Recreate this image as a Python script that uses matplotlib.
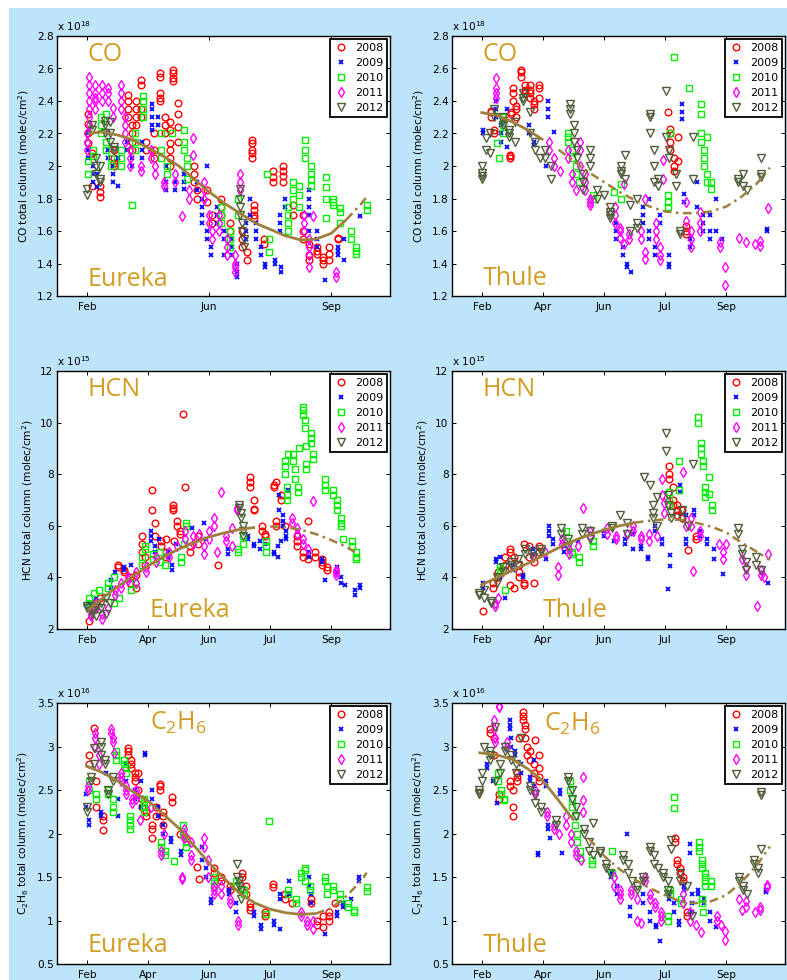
import matplotlib
matplotlib.use('Agg')
import matplotlib.pyplot as plt
from matplotlib.patches import Rectangle
from matplotlib.lines import Line2D

plt.rcParams['font.family'] = ['DejaVu Sans']
plt.rcParams['mathtext.fontset'] = 'custom'
plt.rcParams['mathtext.rm'] = 'Open Sans'
plt.rcParams['mathtext.default'] = 'regular'

years = ['2008', '2009', '2010', '2011', '2012']
month_ticks = [30, 90, 150, 210, 270]
month_labels = ['Feb', 'Apr', 'Jun', 'Jul', 'Sep']

# ---------------- Eureka CO (x 1e18) : (day, [values]) ----------------
eu_co_2008 = [(31, [2.2, 2.26, 2.32, 2.14]), (34, [2.08, 1.88]), (42, [1.81, 1.84, 1.88]),
              (56, [2.0, 2.02, 2.05, 2.1]), (70, [2.44, 2.4, 2.35, 2.3]), (74, [2.25, 2.2, 2.15, 2.1]),
              (78, [2.4, 2.35, 2.3, 2.25]), (83, [2.53, 2.5, 2.35, 2.3]), (88, [2.15, 2.1]),
              (96, [2.2, 2.1, 2.05]), (101, [2.57, 2.55, 2.45, 2.42, 2.4]), (106, [2.3, 2.25, 2.2]),
              (111, [2.27, 2.22, 2.14, 2.1, 2.05, 2.0]), (114, [2.59, 2.57, 2.54, 2.52]),
              (119, [2.39, 2.32, 2.24, 2.15]), (135, [2.0, 1.95, 1.9]), (138, [1.85, 1.8]),
              (148, [1.85, 1.78]), (153, [1.7, 1.65]), (162, [1.8, 1.75, 1.7]), (170, [1.65, 1.6]),
              (182, [1.6, 1.55, 1.5]), (187, [1.47, 1.42]), (192, [2.16, 2.14, 2.1, 2.08, 2.05]),
              (194, [1.76, 1.73, 1.7, 1.68]), (204, [1.55, 1.52]), (213, [1.97, 1.93, 1.9]),
              (223, [2.0, 1.97, 1.94, 1.9]), (232, [1.7, 1.76]), (242, [1.7, 1.6, 1.55]),
              (248, [1.52, 1.45, 1.42]), (256, [1.5, 1.48, 1.46]), (262, [1.44, 1.42, 1.4]),
              (268, [1.5, 1.46, 1.42]), (277, [1.56, 1.55])]
eu_co_2009 = [(31, [2.2, 2.1, 2.05]), (35, [2.0, 1.95, 1.9]), (39, [1.87, 1.95]),
              (50, [2.2, 2.1, 2.05]), (55, [2.0, 1.95, 1.9]), (60, [2.05, 1.88]),
              (69, [2.15, 2.1]), (74, [2.05, 2.0]), (84, [2.05, 2.1, 2.15]),
              (94, [2.38, 2.35, 2.3, 2.25, 2.22]), (99, [2.3, 2.25]), (107, [2.0, 1.9, 1.85]),
              (116, [1.9, 1.85]), (125, [1.95, 1.9, 1.86]), (138, [1.9, 1.85]),
              (143, [1.8, 1.75, 1.7, 1.65]), (148, [2.0, 1.6, 1.55]), (152, [1.5, 1.45]),
              (158, [1.75, 1.7, 1.65]), (164, [1.6, 1.55, 1.45]), (172, [1.55, 1.5, 1.45]),
              (177, [1.4, 1.35, 1.32]), (186, [1.55, 1.6, 1.65]), (190, [1.7, 1.8]),
              (196, [1.65, 1.6, 1.55]), (201, [1.5, 1.45]), (205, [1.4, 1.38]), (215, [1.42, 1.4]),
              (221, [1.38, 1.35]), (220, [1.6, 1.65, 1.7]), (225, [1.75, 1.8]),
              (248, [1.85, 1.8, 1.75, 1.7, 1.6]), (256, [1.6, 1.55, 1.5]), (264, [1.3]),
              (277, [1.45, 1.5, 1.48]), (283, [1.42, 1.55]), (298, [1.69])]
eu_co_2010 = [(31, [2.03, 1.95]), (35, [2.06, 2.1]), (43, [2.3, 2.25, 2.2]), (48, [2.32, 2.15, 2.1]),
              (53, [2.05, 2.0]), (63, [2.0, 2.05, 2.1]), (74, [1.76]), (77, [2.15, 2.1, 2.2]),
              (85, [2.43, 2.4, 2.35, 2.3]), (102, [2.2, 2.1, 2.05]), (108, [2.0, 1.95]), (113, [2.2]),
              (125, [2.22, 2.15, 2.1]), (128, [2.05, 2.0, 1.92]), (162, [1.75, 1.7, 1.65]),
              (170, [1.6, 1.55, 1.5]), (178, [1.8, 1.7]), (207, [1.95]), (209, [1.47, 1.55]),
              (228, [1.75, 1.7, 1.65, 1.6]), (232, [1.9, 1.85, 1.8]), (238, [1.88, 1.82, 1.75]),
              (244, [2.16, 2.1, 2.05]), (250, [2.0, 1.95, 1.92, 1.88]), (265, [1.93, 1.87, 1.8, 1.68]),
              (272, [1.8, 1.78, 1.76]), (279, [1.74, 1.72, 1.65]), (290, [1.6, 1.55]),
              (295, [1.5, 1.48, 1.46]), (305, [1.76, 1.73])]
eu_co_2011 = [(30, [2.2, 2.15, 2.1]), (32, [2.55, 2.5, 2.45, 2.4, 2.35, 2.3, 2.25]),
              (37, [2.5, 2.45, 2.42, 2.4, 2.35]), (44, [2.5, 2.45, 2.4]), (50, [2.48, 2.45, 2.4]),
              (55, [2.36, 2.3]), (63, [2.45, 2.5, 2.4, 2.35]), (67, [2.3, 2.25, 2.2, 2.15]),
              (72, [2.1, 2.05, 2.0]), (83, [1.97, 2.0]), (93, [2.1, 2.05]), (97, [2.0, 1.95]),
              (105, [1.9, 1.88]), (116, [1.95, 1.9]), (123, [1.69]), (130, [1.85, 1.8]),
              (134, [2.07, 2.17]), (145, [1.9, 1.85, 1.8]), (150, [1.7, 1.65]), (153, [1.6, 1.55]),
              (160, [1.7, 1.65, 1.6]), (167, [1.55, 1.5, 1.45]), (175, [1.45, 1.4, 1.38, 1.35]),
              (180, [1.95, 1.9, 1.85]), (243, [1.7, 1.65, 1.6]), (248, [1.55, 1.5, 1.45, 1.38]),
              (252, [1.69]), (275, [1.35, 1.32])]
eu_co_2012 = [(30, [1.82, 1.86]), (34, [2.25, 2.22]), (38, [2.05, 2.0, 1.95]), (42, [1.9, 1.92, 2.0]),
              (47, [2.28, 2.25, 2.2]), (52, [2.27, 2.2, 2.15]), (56, [2.12, 2.1]),
              (180, [1.86, 1.8, 1.75, 1.7]), (182, [1.65, 1.6]), (184, [1.55, 1.5])]
eu_co_fit_day = [30, 45, 60, 75, 90, 105, 120, 135, 150, 165, 180, 195, 210, 225, 240, 255, 270, 285, 300, 305]
eu_co_fit_val = [2.2, 2.21, 2.19, 2.16, 2.11, 2.06, 2.0, 1.92, 1.84, 1.77, 1.71, 1.65, 1.61, 1.57,
                 1.545, 1.55, 1.585, 1.67, 1.77, 1.81]

# ---------------- Thule CO (x 1e18) ----------------
th_co_2008 = [(38, [2.33, 2.34, 2.3]), (41, [2.22, 2.2]), (57, [2.06, 2.05, 2.07]), (58, [2.32, 2.33]),
              (60, [2.48, 2.45, 2.4]), (63, [2.37, 2.35, 2.3]), (68, [2.59, 2.58, 2.55]),
              (72, [2.5, 2.47, 2.45]), (77, [2.5, 2.47, 2.45, 2.42]), (81, [2.4, 2.38, 2.35]),
              (86, [2.5, 2.48, 2.42]), (213, [2.33]), (215, [2.23, 2.2, 2.15, 2.1]),
              (219, [2.05, 2.0, 1.97]), (223, [2.18, 2.03]), (230, [1.63, 1.6, 1.58])]
th_co_2009 = [(31, [2.22, 2.2]), (43, [2.4, 2.35, 2.3]), (48, [2.25, 2.2, 2.15]), (54, [2.35, 2.12]),
              (76, [2.25, 2.2]), (81, [2.15, 2.13]), (93, [2.0]), (95, [2.4, 2.35, 2.3]), (100, [2.21]),
              (162, [1.65, 1.6, 1.55]), (168, [1.5, 1.45]), (172, [1.4, 1.38]), (176, [1.35]),
              (188, [1.75, 1.7, 1.65]), (194, [1.6, 1.55, 1.8]), (200, [1.5, 1.45]), (205, [1.7, 1.65]),
              (214, [1.45, 1.4, 1.38]), (227, [2.38, 2.33, 2.29]), (229, [1.83, 1.78]), (234, [1.55, 1.5]),
              (241, [1.9, 1.75]), (247, [1.7, 1.65, 1.6]), (254, [1.6, 1.55, 1.7]), (260, [1.8, 1.6]),
              (266, [1.55]), (310, [1.61, 1.6])]
th_co_2010 = [(44, [2.14]), (46, [2.05]), (50, [2.2, 2.25, 2.3]), (114, [2.2, 2.18, 2.15]),
              (118, [2.1, 2.05]), (122, [2.0, 1.95]), (125, [1.9]), (139, [1.8, 1.82]), (160, [1.84]),
              (166, [1.89, 1.8]), (213, [1.82, 1.78, 1.75]), (215, [2.2]), (219, [2.67]), (233, [2.48]),
              (245, [2.38, 2.32, 2.2, 2.15]), (248, [2.1, 2.05, 2.0]), (251, [2.18, 1.95, 1.9]),
              (255, [1.9, 1.86])]
th_co_2011 = [(43, [2.54, 2.48, 2.45, 2.42]), (96, [2.15, 2.1]), (100, [2.05, 2.0]), (106, [1.97]),
              (114, [2.1, 2.05]), (118, [1.95, 1.9]), (122, [1.85]), (126, [2.15, 2.1, 2.0]),
              (131, [1.95, 1.9, 1.85]), (136, [1.8, 1.78, 1.76]), (161, [1.75, 1.7, 1.65]),
              (165, [1.62, 1.6, 1.56]), (169, [1.52, 1.89]), (174, [1.58, 1.55]), (186, [1.6, 1.55]),
              (190, [1.47, 1.43, 1.8]), (201, [1.65, 1.6, 1.55]), (205, [1.5, 1.45, 1.42]),
              (208, [1.92, 2.04]), (230, [1.78, 1.66]), (235, [1.6, 1.55, 1.5]), (244, [1.72, 1.65, 1.6]),
              (264, [1.53, 1.5]), (269, [1.38, 1.27]), (283, [1.56]), (290, [1.53]), (298, [1.52]),
              (303, [1.54, 1.51]), (311, [1.74])]
th_co_2012 = [(30, [1.94, 1.96, 1.92, 2.0]), (33, [2.17, 2.1]), (37, [2.08, 2.2]), (41, [2.35, 2.3]),
              (50, [2.3, 2.28, 2.25]), (56, [2.22, 2.2, 2.18]), (62, [2.15, 2.27]), (70, [2.45, 2.42, 2.4]),
              (77, [2.33, 2.2]), (82, [2.15, 2.1]), (87, [2.05]), (92, [2.1, 2.05]), (98, [2.0, 1.92]),
              (116, [2.38, 2.35, 2.32]), (120, [2.2, 2.15, 2.25]), (123, [2.1, 2.05]),
              (129, [1.95, 1.9, 1.85]), (136, [2.1, 2.05, 2.0]), (143, [1.85, 1.8]), (150, [1.82]),
              (156, [1.72, 1.7, 1.68, 1.75]), (166, [2.0, 1.97, 1.95]), (170, [1.92, 2.07]),
              (175, [1.76, 1.6]), (182, [1.65, 1.62, 1.8]), (195, [2.32, 2.3, 2.2]), (199, [2.1, 2.0, 1.9]),
              (203, [1.88, 1.92]), (211, [2.46, 2.18]), (214, [2.05, 2.1]), (221, [1.88, 1.95]),
              (225, [1.6, 1.58]), (237, [2.18, 1.92]), (282, [1.92, 1.9]), (287, [1.88, 1.95]),
              (291, [1.85]), (304, [2.05, 1.95, 1.93])]
th_co_fit_day = [28, 45, 60, 75, 90, 105, 120, 135, 150, 165, 180, 195, 210, 225, 240, 255, 270, 285, 300, 313]
th_co_fit_val = [2.33, 2.31, 2.27, 2.22, 2.16, 2.1, 2.03, 1.96, 1.9, 1.84, 1.79, 1.75, 1.72, 1.71,
                 1.71, 1.72, 1.75, 1.81, 1.89, 1.99]

# ---------------- Eureka HCN (x 1e15) ----------------
eu_hcn_2008 = [(32, [2.3]), (37, [2.8, 3.0]), (42, [3.2]), (60, [4.5, 4.4]), (66, [4.3, 4.2]),
               (72, [4.0, 3.8]), (78, [3.6, 4.1]), (84, [5.6, 5.3, 5.0]), (87, [4.8, 4.5]),
               (94, [7.4, 6.6]), (97, [6.1, 5.6]), (102, [5.4, 5.2]), (107, [5.0, 4.8, 5.5]),
               (114, [6.8, 6.7, 6.6]), (115, [5.4]), (118, [6.2, 6.0]), (121, [5.8, 5.7]),
               (124, [10.35]), (126, [7.5]), (131, [5.2, 5.0]), (139, [5.6, 5.3]), (159, [4.5]),
               (190, [7.9, 7.7, 7.5]), (194, [7.0, 6.6, 6.65]), (202, [6.0, 5.8]), (205, [5.7, 5.6]),
               (214, [7.6, 7.5]), (216, [7.7, 6.2, 6.0]), (221, [7.2, 7.0]), (225, [6.0]),
               (236, [5.6, 5.4, 5.2]), (242, [5.0, 4.8]), (247, [4.7, 6.2]), (254, [5.0, 4.8]),
               (261, [4.7, 4.6, 4.5]), (266, [4.4, 4.3])]
eu_hcn_2009 = [(32, [2.8, 3.0]), (38, [3.2]), (53, [3.9, 3.6]), (57, [4.2]), (66, [4.4, 4.3]), (73, [4.5]),
               (93, [5.8, 5.6, 5.4]), (97, [5.2, 5.0]), (100, [5.5]), (109, [5.0, 4.8]), (113, [4.5, 4.3]),
               (117, [5.3]), (133, [5.9]), (145, [6.1]), (147, [5.5]), (168, [4.9, 5.1]),
               (188, [5.6, 5.5]), (194, [5.3, 5.2]), (200, [5.1, 5.4]), (205, [5.3]), (214, [5.0, 4.9]),
               (218, [4.8, 5.2]), (221, [5.4]), (219, [7.2, 6.6]), (223, [6.4, 6.2, 6.0]),
               (226, [5.8, 5.6, 5.5]), (228, [7.4]), (248, [5.0, 4.8]), (261, [4.7, 4.6]), (264, [3.9]),
               (276, [4.4, 4.2]), (280, [4.0, 3.8]), (284, [3.7]), (294, [3.5, 3.3]), (298, [3.7, 3.6])]
eu_hcn_2010 = [(32, [3.2, 3.0]), (36, [2.8, 3.4]), (41, [3.5]), (50, [3.6, 3.8]), (56, [4.0, 3.0]),
               (61, [3.2]), (73, [3.5]), (77, [3.8]), (84, [4.5, 4.8]), (87, [5.1, 5.2]), (95, [4.9, 4.7]),
               (101, [4.6, 5.0]), (106, [4.5]), (122, [4.6, 4.8]), (125, [5.3]), (127, [6.1, 6.0]),
               (178, [5.0, 5.1]), (183, [5.3, 5.6]), (206, [5.4, 5.2, 5.0]), (225, [8.5, 8.3, 8.0]),
               (227, [7.5, 7.2, 7.0]), (228, [8.8]), (232, [8.8, 8.5]), (234, [8.2, 7.8]), (237, [7.5, 7.3]),
               (238, [9.0]), (242, [10.6, 10.5, 10.3]), (244, [10.1, 9.8]), (245, [9.1, 8.4, 8.2]),
               (250, [9.6, 9.4, 9.2]), (252, [8.8, 8.6]), (264, [7.8, 7.6, 7.4]), (272, [7.4, 7.2]),
               (276, [7.0, 6.8, 6.6]), (280, [6.3, 6.1, 6.0]), (282, [5.5]), (291, [5.4, 5.2]),
               (295, [5.0, 4.8, 4.7])]
eu_hcn_2011 = [(33, [2.5, 2.6]), (38, [2.8, 3.0]), (44, [2.4, 2.6]), (50, [2.8]), (57, [3.5, 3.3]),
               (63, [3.6, 3.8]), (70, [3.9, 4.0]), (78, [4.2, 3.8]), (88, [4.2, 4.4]), (98, [4.6, 4.8]),
               (110, [4.8, 5.0]), (118, [5.2]), (126, [5.5, 5.8]), (134, [5.6, 5.3]), (140, [5.7]),
               (145, [4.9, 5.2]), (150, [5.5, 5.8]), (155, [6.0, 6.3]), (158, [5.0]), (162, [7.3]),
               (166, [5.6, 5.4]), (172, [5.2, 5.9]), (177, [6.6, 6.7]), (231, [6.3, 6.1]),
               (236, [5.9, 5.7]), (242, [5.5, 5.3]), (247, [5.1]), (252, [6.95]), (275, [4.3, 4.2, 4.1])]
eu_hcn_2012 = [(30, [2.9, 2.8]), (34, [2.7, 2.6]), (38, [2.5, 2.9]), (43, [3.0, 2.8]), (48, [3.2, 2.6]),
               (52, [3.0]), (179, [6.8, 6.7]), (181, [6.5, 6.3]), (183, [6.0, 5.8, 5.6])]
eu_hcn_fit_day = [30, 45, 60, 75, 90, 105, 120, 135, 150, 165, 180, 195, 210, 225, 240, 255, 270, 285, 298]
eu_hcn_fit_val = [2.7, 3.2, 3.65, 4.05, 4.45, 4.8, 5.1, 5.35, 5.57, 5.73, 5.86, 5.94, 5.97, 5.95,
                  5.85, 5.68, 5.45, 5.18, 4.88]

# ---------------- Thule HCN (x 1e15) ----------------
th_hcn_2008 = [(31, [2.7]), (40, [3.6, 3.8]), (45, [4.0, 4.2]), (52, [4.3, 4.5, 4.8]), (57, [5.0, 5.1, 3.7]),
               (61, [3.6, 4.8]), (66, [4.5, 4.2, 4.0]), (71, [3.8, 3.7, 5.3]), (76, [5.2, 4.8]),
               (81, [3.8, 4.6]), (86, [5.0, 5.2]), (214, [8.3, 8.0, 7.8]), (218, [7.5, 7.0, 6.8]),
               (222, [6.6, 6.4, 6.8]), (227, [6.6, 6.3]), (232, [5.05]), (240, [5.6, 5.5])]
th_hcn_2009 = [(31, [3.8, 3.6]), (43, [4.6, 4.7]), (47, [4.8, 4.0]), (52, [3.2]), (60, [4.5, 4.3]),
               (70, [4.1, 4.0]), (80, [5.1, 4.9]), (93, [4.7]), (96, [5.6, 5.8, 6.0]), (99, [5.5, 5.3]),
               (110, [5.2, 5.0]), (124, [5.4]), (150, [5.8, 5.6]), (160, [5.4]), (170, [5.5, 5.3]),
               (178, [5.1, 5.7]), (186, [5.2, 5.1]), (193, [4.8, 4.7]), (200, [5.8, 6.0]), (207, [5.5, 5.3]),
               (213, [3.55]), (215, [4.45, 4.85]), (225, [7.6, 7.3]), (230, [6.4, 5.5, 5.3]),
               (238, [6.6, 6.4]), (244, [5.8, 5.6]), (251, [5.5, 5.3]), (258, [5.1, 4.7]), (267, [4.15]),
               (311, [3.78])]
th_hcn_2010 = [(47, [4.4, 4.2, 4.3]), (52, [3.5]), (112, [5.8, 5.4]), (118, [5.0, 4.9]), (125, [4.8, 4.6]),
               (139, [5.4, 5.2]), (214, [7.3, 7.0, 6.8]), (224, [8.5, 7.4]), (242, [10.2, 10.0]),
               (245, [9.2, 9.0, 8.8]), (247, [8.5, 8.3]), (249, [7.5, 7.3, 7.1]), (253, [7.9, 7.25]),
               (256, [6.8, 6.6])]
th_hcn_2011 = [(42, [3.0, 2.9]), (45, [3.2]), (80, [4.8]), (92, [5.0]), (104, [4.4, 4.1]), (108, [5.5, 5.3]),
               (115, [5.1, 4.9]), (124, [5.2]), (129, [6.7]), (136, [5.8, 5.6]), (153, [5.9, 5.7]),
               (162, [5.5, 5.6]), (172, [5.7]), (178, [6.0, 5.8]), (186, [5.6, 5.5]), (194, [5.4, 5.7]),
               (202, [5.6]), (207, [7.8, 7.2]), (209, [6.9, 6.5]), (228, [8.1]), (230, [6.0]),
               (235, [6.3, 6.0]), (237, [4.25]), (244, [5.8, 5.6]), (263, [5.3]), (267, [5.0, 4.7]),
               (270, [5.3]), (286, [4.7]), (290, [4.4, 4.1]), (300, [2.9]), (304, [4.3, 4.1]), (307, [4.0]),
               (311, [4.9])]
th_hcn_2012 = [(27, [3.4, 3.3]), (32, [3.2, 3.5]), (38, [3.1, 3.0]), (44, [3.8, 4.0]), (50, [4.2, 4.4]),
               (58, [4.5, 4.6]), (65, [4.5, 4.7]), (72, [4.9, 5.1]), (80, [4.8, 5.0]), (88, [5.0, 5.1]),
               (107, [5.9, 5.7]), (114, [5.5, 5.2]), (128, [5.9, 5.7]), (136, [5.5, 5.8]), (158, [6.0, 5.9]),
               (165, [6.4]), (172, [5.7, 6.1]), (189, [7.9]), (195, [7.6]), (198, [6.8, 6.5, 6.3]),
               (202, [6.0, 7.1]), (211, [9.6, 8.9]), (213, [7.2, 6.8]), (216, [6.5, 6.3]), (227, [6.6, 6.3]),
               (232, [6.0]), (237, [8.4]), (282, [5.9, 5.7]), (286, [5.1, 4.9]), (290, [4.6, 4.3]),
               (299, [4.8, 4.5]), (304, [4.3])]
th_hcn_fit_day = [28, 45, 60, 75, 90, 105, 120, 135, 150, 165, 180, 195, 210, 225, 240, 255, 270, 285, 300, 313]
th_hcn_fit_val = [3.7, 4.0, 4.28, 4.55, 4.85, 5.15, 5.42, 5.65, 5.84, 6.0, 6.12, 6.2, 6.25, 6.23,
                  6.12, 5.97, 5.75, 5.35, 5.0, 4.68]

# ---------------- Eureka C2H6 (x 1e16) ----------------
eu_c2_2008 = [(36, [3.21]), (32, [2.9, 2.8]), (38, [2.6, 2.3]), (45, [2.2, 2.15, 2.04]),
              (70, [2.98, 2.95, 2.9]), (73, [2.85, 2.8, 2.75]), (77, [2.7, 2.65, 2.6]), (80, [2.69, 2.5]),
              (84, [2.4, 2.3]), (88, [2.25, 2.2]), (94, [1.95, 2.05, 2.1]), (98, [2.2, 2.3]),
              (101, [2.57, 2.55, 2.5]), (104, [2.25, 2.2, 2.1]), (113, [2.42, 2.36]), (121, [2.0]),
              (127, [1.95]), (138, [1.62]), (140, [1.48]), (155, [1.6, 1.55]), (162, [1.5, 1.45]),
              (170, [1.4, 1.35]), (182, [1.55, 1.5]), (186, [1.4, 1.3]), (190, [1.2, 1.15, 1.12]),
              (205, [1.1, 1.05]), (213, [1.42, 1.38]), (225, [1.3, 1.25]), (231, [1.2]),
              (250, [1.25, 1.2]), (256, [1.0, 0.95]), (262, [0.93, 1.05]), (268, [1.1, 1.05, 1.0]),
              (274, [1.2])]
eu_c2_2009 = [(29, [2.45, 2.3]), (32, [2.15, 2.1]), (43, [2.2, 2.25]), (48, [2.7]), (60, [2.2, 2.4]),
              (68, [2.6, 2.8]), (77, [2.5, 2.4]), (83, [2.6, 2.3]), (87, [2.93, 2.9]), (94, [2.5, 2.4]),
              (99, [2.3, 2.2]), (104, [2.1, 2.0]), (112, [1.95, 1.9]), (122, [1.8, 1.75]),
              (143, [1.85, 1.7]), (147, [1.6, 1.5]), (152, [1.25, 1.2]), (169, [1.35, 1.3]),
              (176, [1.2, 1.1]), (194, [1.1, 1.05]), (201, [0.95, 0.9]), (214, [1.0, 0.95]),
              (220, [0.9, 1.3, 1.25]), (229, [1.45, 1.3]), (248, [1.5, 1.4]), (250, [1.3, 1.2]),
              (264, [0.84]), (276, [1.05, 1.1]), (282, [1.15, 1.2]), (290, [1.25]), (297, [1.5, 1.45])]
eu_c2_2010 = [(32, [2.6, 2.5]), (38, [2.45, 2.4]), (50, [2.5, 2.45]), (55, [2.4, 2.3, 2.25]),
              (58, [2.95, 2.9, 2.85]), (66, [2.85, 2.8]), (68, [2.75, 2.7]), (72, [2.2, 2.15, 2.1, 2.05]),
              (86, [2.4, 2.35, 2.3, 2.25]), (102, [1.9, 1.85]), (106, [1.8, 1.75]), (115, [1.68]),
              (124, [2.1, 2.0]), (127, [1.9, 1.85]), (155, [1.5, 1.45, 1.4]), (176, [1.45, 1.4]),
              (184, [1.35, 1.3]), (206, [1.07]), (209, [2.14]), (228, [1.35, 1.3]), (235, [1.25, 1.2]),
              (240, [1.55, 1.5]), (244, [1.6, 1.58, 1.45]), (249, [1.4, 1.35]), (264, [1.5, 1.45]),
              (266, [1.4, 1.3]), (272, [1.4, 1.35]), (279, [1.3, 1.25]), (287, [1.2, 1.15]),
              (293, [1.12, 1.1]), (305, [1.38, 1.34])]
eu_c2_2011 = [(31, [2.55, 2.5]), (37, [3.15, 3.1, 3.0]), (41, [2.9, 2.8]), (53, [3.2, 3.15]),
              (55, [3.1, 3.05]), (56, [2.93]), (63, [2.7, 2.65, 2.6]), (68, [2.55, 2.5, 2.45]),
              (74, [2.4, 2.35]), (78, [2.5, 2.45, 2.4]), (82, [2.15]), (93, [2.3]), (102, [1.8, 1.75]),
              (105, [2.0]), (123, [1.5, 1.48]), (125, [2.05, 2.0, 1.95]), (132, [1.9, 1.75, 1.7]),
              (145, [1.95, 1.85]), (149, [1.7, 1.5]), (155, [1.4, 1.35, 1.3]), (162, [1.4, 1.3]),
              (170, [1.25, 1.2]), (178, [1.0, 0.95]), (240, [1.1, 1.05]), (246, [1.0, 0.95]),
              (252, [0.9, 1.0])]
eu_c2_2012 = [(30, [2.3, 2.25]), (33, [2.65, 2.6]), (36, [2.8, 2.98]), (43, [3.05, 3.0, 2.9]),
              (47, [2.85, 2.8]), (50, [2.5, 2.45]), (55, [2.65, 2.6]), (177, [1.65, 1.5]),
              (179, [1.45, 1.4]), (181, [1.35, 1.25])]
eu_c2_fit_day = [28, 45, 60, 75, 90, 105, 120, 135, 150, 165, 180, 195, 210, 225, 240, 255, 270, 285, 300, 305]
eu_c2_fit_val = [2.78, 2.7, 2.6, 2.48, 2.37, 2.22, 2.06, 1.86, 1.66, 1.48, 1.31, 1.2, 1.13, 1.09,
                 1.07, 1.08, 1.14, 1.28, 1.46, 1.55]

# ---------------- Thule C2H6 (x 1e16) ----------------
th_c2_2008 = [(37, [3.2, 3.15]), (41, [3.1, 2.9]), (46, [2.45, 2.4]), (57, [2.6, 2.55]), (60, [2.5, 2.3, 2.2]),
              (64, [2.7, 2.65, 2.6]), (66, [3.1]), (70, [3.4, 3.35, 3.3]), (72, [3.25, 3.2, 3.1]),
              (74, [3.0, 2.9]), (77, [2.95, 2.85]), (81, [2.8, 2.7]), (82, [3.07]),
              (86, [2.9, 2.75, 2.65, 2.6]), (220, [1.95, 1.9]), (222, [1.7, 1.65]), (225, [1.6, 1.55]),
              (228, [1.5, 1.45]), (231, [1.1, 1.05])]
th_c2_2009 = [(34, [2.8, 2.75]), (40, [2.6]), (44, [2.35]), (57, [3.3, 3.25, 3.2]), (58, [3.1, 3.0]),
              (62, [2.95, 2.9]), (68, [2.8, 2.7]), (77, [2.65, 2.6]), (81, [2.55, 2.85]), (85, [1.78, 1.75]),
              (93, [2.6, 2.55]), (95, [2.1, 2.05]), (97, [1.95]), (106, [2.5, 2.45]), (108, [1.78]),
              (157, [1.55, 1.5]), (163, [1.4, 1.3]), (172, [2.0]), (175, [1.15, 1.05]), (188, [1.3, 1.2]),
              (195, [1.1, 1.0]), (201, [0.95, 0.92]), (205, [0.77]), (214, [1.3, 1.25]), (219, [1.2, 1.1]),
              (224, [1.0, 0.95]), (234, [1.88, 1.78]), (229, [1.4, 1.35]), (236, [1.3, 1.2, 1.1]),
              (242, [1.35, 1.3]), (248, [1.25, 1.2]), (254, [1.1, 1.0]), (260, [0.92]), (309, [1.35, 1.33])]
th_c2_2010 = [(45, [2.7, 2.6]), (48, [2.5, 2.45]), (51, [2.4, 2.38]), (116, [2.6, 2.5]), (118, [2.4, 2.3]),
              (121, [2.2, 2.1]), (123, [2.0, 1.9]), (126, [1.8, 1.72]), (138, [1.7, 1.65]), (158, [1.55, 1.8]),
              (213, [1.05, 1.0]), (215, [1.3, 1.35]), (219, [2.42, 2.29]), (226, [1.25, 1.2]),
              (243, [1.9, 1.85, 1.8]), (246, [1.7, 1.65, 1.6, 1.25, 1.2]), (249, [1.55, 1.5, 1.45, 1.4]),
              (247, [1.1]), (255, [1.45, 1.4])]
th_c2_2011 = [(41, [3.3, 3.2]), (42, [3.1, 3.05]), (46, [3.47, 3.45]), (54, [3.05, 3.0]), (82, [2.5, 2.45]),
              (94, [2.25, 2.2]), (100, [2.1, 2.05]), (105, [2.0]), (112, [2.2, 2.1]), (117, [2.0, 1.9]),
              (122, [1.8, 1.75]), (127, [1.7]), (129, [2.65, 2.38, 2.25]), (160, [1.5, 1.4]),
              (165, [1.35, 1.3, 1.25]), (176, [1.35, 1.3]), (182, [1.25, 1.0]), (186, [0.97]),
              (190, [1.5, 1.45]), (195, [1.3, 1.25]), (200, [1.2, 1.15]), (206, [1.1, 1.05, 1.0]),
              (228, [1.3, 1.2]), (234, [1.1, 1.0]), (240, [0.95]), (245, [0.87]), (261, [1.05, 1.0]),
              (265, [0.95]), (269, [0.88, 0.78]), (283, [1.25]), (286, [1.12]), (290, [1.22, 1.15]),
              (298, [1.1]), (303, [1.15, 1.12]), (310, [1.41, 1.38])]
th_c2_2012 = [(27, [2.5, 2.47, 2.45]), (30, [2.6, 2.7]), (32, [3.0]), (37, [2.95, 2.9, 2.85]),
              (42, [3.22, 2.6]), (47, [2.7, 2.8]), (52, [3.0, 2.95]), (58, [2.9, 2.85]), (63, [2.8, 2.7]),
              (68, [3.1]), (77, [2.55, 2.5]), (82, [2.45, 2.35]), (88, [2.3, 2.25]), (102, [2.15, 2.1]),
              (114, [2.65, 2.6]), (118, [2.5, 2.4]), (122, [2.3, 2.2]), (130, [2.05, 2.0]), (135, [1.9, 1.8]),
              (139, [1.75, 2.12]), (146, [1.78, 1.8]), (152, [1.65, 1.6]), (156, [1.55]), (168, [1.75, 1.7]),
              (173, [1.65, 1.55]), (177, [1.45]), (182, [1.4, 1.35]), (188, [1.45, 1.5]), (195, [1.85, 1.8]),
              (199, [1.75, 1.65]), (203, [1.6]), (208, [1.55, 1.5]), (213, [1.45, 1.35, 1.3]),
              (216, [1.92, 1.82]), (225, [1.55, 1.45]), (231, [1.4]), (236, [1.05]), (283, [1.5, 1.45]),
              (287, [1.4, 1.35]), (291, [1.3]), (297, [1.7, 1.65]), (301, [1.6, 1.55]),
              (304, [2.48, 2.44, 1.82])]
th_c2_fit_day = [26, 45, 60, 75, 90, 105, 120, 135, 150, 165, 180, 195, 210, 225, 240, 255, 270, 285, 300, 313]
th_c2_fit_val = [2.93, 2.9, 2.85, 2.74, 2.6, 2.38, 2.15, 1.94, 1.74, 1.59, 1.47, 1.37, 1.29, 1.22,
                 1.2, 1.22, 1.29, 1.44, 1.63, 1.85]

# ---------------------------------------------------------------------------
BG = '#bee4f9'
LABEL_C = '#d29c22'
FIT_C = '#9e803c'
styles = {
    '2008': dict(marker='o', color='#ff0000', ms=4.8, mfc='none', mew=1.0),
    '2009': dict(marker='x', color='#0000ff', ms=3.3, mew=1.3),
    '2010': dict(marker='s', color='#00ee00', ms=4.3, mfc='none', mew=1.0),
    '2011': dict(marker='d', color='#ff00ff', ms=5.2, mfc='none', mew=1.0),
    '2012': dict(marker='v', color='#4f5e3a', ms=5.4, mfc='none', mew=1.0),
}

W, H = 787, 980
fig = plt.figure(figsize=(W / 100, H / 100), dpi=100)
fig.patches.append(Rectangle((9 / W, 0), 1 - 9 / W, 1 - 8 / H, transform=fig.transFigure,
                             facecolor=BG, edgecolor='none', zorder=-10))


def expand(clusters):
    xs, ys = [], []
    for d, vals in clusters:
        for v in vals:
            xs.append(d)
            ys.append(v)
    return xs, ys


def axes_rect(left_px, top_px, right_px, bottom_px):
    return [left_px / W, 1 - bottom_px / H, (right_px - left_px) / W, (bottom_px - top_px) / H]


panels = [
    dict(rect=axes_rect(57, 36, 390, 296), data=[eu_co_2008, eu_co_2009, eu_co_2010, eu_co_2011, eu_co_2012],
         fit=(eu_co_fit_day, eu_co_fit_val), split=285, ylim=(1.2, 2.8), yticks=[1.2, 1.4, 1.6, 1.8, 2, 2.2, 2.4, 2.6, 2.8],
         ylabel='CO total column (molec/cm$^2$)', exp='18', species='CO', site='Eureka',
         sp_pos=(0.093, 0.904), site_pos=(0.093, 0.038), xt=[30, 150, 270], xl=['Feb', 'Jun', 'Sep']),
    dict(rect=axes_rect(452, 36, 785, 296), data=[th_co_2008, th_co_2009, th_co_2010, th_co_2011, th_co_2012],
         fit=(th_co_fit_day, th_co_fit_val), split=100, ylim=(1.2, 2.8), yticks=[1.2, 1.4, 1.6, 1.8, 2, 2.2, 2.4, 2.6, 2.8],
         ylabel='CO total column (molec/cm$^2$)', exp='18', species='CO', site='Thule',
         sp_pos=(0.093, 0.904), site_pos=(0.093, 0.042), xt=month_ticks, xl=month_labels),
    dict(rect=axes_rect(57, 371, 390, 629), data=[eu_hcn_2008, eu_hcn_2009, eu_hcn_2010, eu_hcn_2011, eu_hcn_2012],
         fit=(eu_hcn_fit_day, eu_hcn_fit_val), split=205, ylim=(2, 12), yticks=[2, 4, 6, 8, 10, 12],
         ylabel='HCN total column (molec/cm$^2$)', exp='15', species='HCN', site='Eureka',
         sp_pos=(0.093, 0.903), site_pos=(0.279, 0.048), xt=month_ticks, xl=month_labels),
    dict(rect=axes_rect(452, 371, 785, 629), data=[th_hcn_2008, th_hcn_2009, th_hcn_2010, th_hcn_2011, th_hcn_2012],
         fit=(th_hcn_fit_day, th_hcn_fit_val), split=180, ylim=(2, 12), yticks=[2, 4, 6, 8, 10, 12],
         ylabel='HCN total column (molec/cm$^2$)', exp='15', species='HCN', site='Thule',
         sp_pos=(0.093, 0.903), site_pos=(0.274, 0.048), xt=month_ticks, xl=month_labels),
    dict(rect=axes_rect(57, 703, 390, 964), data=[eu_c2_2008, eu_c2_2009, eu_c2_2010, eu_c2_2011, eu_c2_2012],
         fit=(eu_c2_fit_day, eu_c2_fit_val), split=255, ylim=(0.5, 3.5), yticks=[0.5, 1, 1.5, 2, 2.5, 3, 3.5],
         ylabel='C$_2$H$_6$ total column (molec/cm$^2$)', exp='16', species='C$_2$H$_6$', site='Eureka',
         sp_pos=(0.279, 0.897), site_pos=(0.093, 0.047), xt=month_ticks, xl=month_labels),
    dict(rect=axes_rect(452, 703, 785, 964), data=[th_c2_2008, th_c2_2009, th_c2_2010, th_c2_2011, th_c2_2012],
         fit=(th_c2_fit_day, th_c2_fit_val), split=130, ylim=(0.5, 3.5), yticks=[0.5, 1, 1.5, 2, 2.5, 3, 3.5],
         ylabel='C$_2$H$_6$ total column (molec/cm$^2$)', exp='16', species='C$_2$H$_6$', site='Thule',
         sp_pos=(0.276, 0.894), site_pos=(0.093, 0.047), xt=month_ticks, xl=month_labels),
]

FS = 7.6
for p in panels:
    ax = fig.add_axes(p['rect'])
    ax.set_facecolor('white')
    for yr, clusters in zip(years, p['data']):
        xs, ys = expand(clusters)
        ax.plot(xs, ys, linestyle='none', zorder=2, **styles[yr])
    fd, fv = p['fit']
    solid_d = [d for d in fd if d <= p['split']]
    solid_v = [v for d, v in zip(fd, fv) if d <= p['split']]
    dash_d = [d for d in fd if d >= p['split']]
    dash_v = [v for d, v in zip(fd, fv) if d >= p['split']]
    if len(solid_d) > 1:
        ax.plot(solid_d, solid_v, color=FIT_C, lw=2.0, zorder=4, solid_capstyle='butt')
    if len(dash_d) > 1:
        ax.plot(dash_d, dash_v, color=FIT_C, lw=1.8, zorder=4,
                linestyle=(0, (3.5, 1.8, 1.0, 1.8)))
    ax.set_xlim(0, 328)
    ax.set_ylim(*p['ylim'])
    ax.set_xticks(p['xt'])
    ax.set_xticklabels(p['xl'])
    ax.set_yticks(p['yticks'])
    ax.set_yticklabels(['%g' % t for t in p['yticks']])
    ax.tick_params(direction='in', top=True, right=True, length=3, width=0.7,
                   labelsize=FS, pad=2.5, colors='black')
    ax.tick_params(axis='x', pad=4)
    for s in ax.spines.values():
        s.set_linewidth(1.0)
        s.set_color('black')
    ax.set_ylabel(p['ylabel'], fontsize=FS, labelpad=4)
    ax.text(0.0, 1.012, r'x 10$^{%s}$' % p['exp'], transform=ax.transAxes,
            ha='left', va='bottom', fontsize=FS)
    ax.text(p['sp_pos'][0], p['sp_pos'][1], p['species'], transform=ax.transAxes,
            ha='left', va='baseline', fontsize=18, color=LABEL_C, family='Open Sans', zorder=6)
    ax.text(p['site_pos'][0], p['site_pos'][1], p['site'], transform=ax.transAxes,
            ha='left', va='baseline', fontsize=18, color=LABEL_C, family='Open Sans', zorder=6)
    handles = [Line2D([], [], linestyle='none', **styles[yr]) for yr in years]
    leg = ax.legend(handles, years, loc='upper right', fontsize=FS + 0.4, frameon=True,
                    fancybox=False, edgecolor='black', framealpha=1, borderpad=0.35,
                    handlelength=1.2, handletextpad=0.7, labelspacing=0.45, borderaxespad=0.25)
    leg.get_frame().set_linewidth(1.3)
    leg.set_zorder(10)

fig.savefig('out.png', dpi=100, facecolor='white')
